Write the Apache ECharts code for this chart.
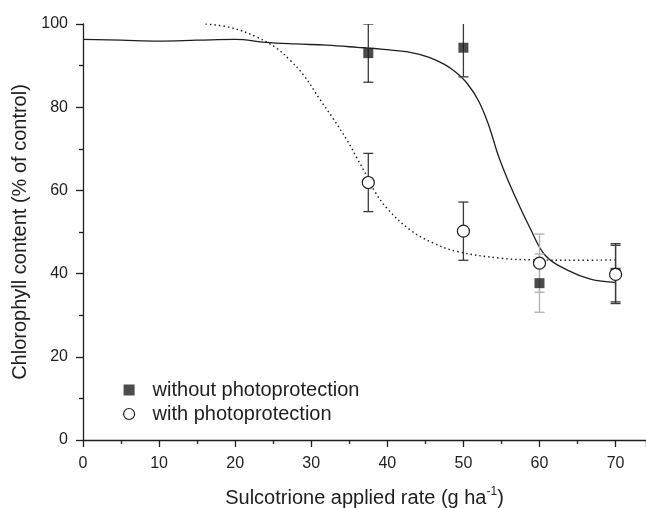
<!DOCTYPE html>
<html><head><meta charset="utf-8">
<script src="https://cdn.jsdelivr.net/npm/echarts@6/dist/echarts.min.js"></script>
<style>html,body{margin:0;padding:0;background:#fff}#c{width:646px;height:508px}</style>
</head><body><div id="c"></div>
<script>
// ---- data ----
const rates = [37.5, 50, 60, 70];
const withoutPP = [93.0, 94.3, 37.7, 40.2];
const withoutErr = [7, 7, 7, 7];
const withPP = [61.9, 50.2, 42.5, 39.8];
const withErr = [7, 7, 7, 7];
// fitted curves
const fitWithoutX = [0, 5, 10, 15, 20, 24, 28, 32, 36, 39.5, 43, 45.5, 47.5, 49, 50.5, 52, 53.3, 54.7, 56.6, 58.8, 60.8, 63.6, 66.7, 70];
const fitWithoutY = [96.3, 96.1, 95.9, 96.1, 96.3, 95.6, 95.2, 94.9, 94.4, 93.9, 93.2, 92.0, 90.3, 88.4, 85.7, 81.5, 75.8, 67.8, 59.3, 50.8, 44.3, 40.9, 38.7, 37.9];
const fitWithX = [16.1, 19.3, 22.8, 25.5, 27.2, 29, 31.2, 32.9, 34.7, 36, 37.5, 38.4, 40, 43, 46.1, 49.2, 54.9, 59.2, 65, 70];
const fitWithY = [100, 99.2, 96.9, 94.1, 91.3, 87.7, 81.7, 77.2, 72.1, 67.8, 62.8, 59.6, 55.6, 50.5, 47.3, 45.3, 43.7, 43.3, 43.2, 43.3];
const xTicks = [0, 10, 20, 30, 40, 50, 60, 70];
const yTicks = [0, 20, 40, 60, 80, 100];
const legendNames = ['without photoprotection', 'with photoprotection'];

// ---- styles ----
const FONT = 'Liberation Sans, Arial, sans-serif';
const INK = '#1e1e1e';
const BAR = '#3a3a3a';
const BAR_LIGHT = '#b0b0b0';
const lightBarRate = 60;

function zip(a, b) { return a.map((v, i) => [v, b[i]]); }
function errData(vals, errs) { return rates.map((x, i) => [x, vals[i] - errs[i], vals[i] + errs[i]]); }

function errRender(params, api) {
  const x = api.value(0);
  const lo = api.coord([x, api.value(1)]);
  const hi = api.coord([x, api.value(2)]);
  const w = 5;
  const col = x === lightBarRate ? BAR_LIGHT : BAR;
  const st = { stroke: col, lineWidth: 1.3 };
  return {
    type: 'group',
    children: [
      { type: 'line', shape: { x1: lo[0], y1: lo[1], x2: hi[0], y2: hi[1] }, style: st },
      { type: 'line', shape: { x1: lo[0] - w, y1: lo[1], x2: lo[0] + w, y2: lo[1] }, style: st },
      { type: 'line', shape: { x1: hi[0] - w, y1: hi[1], x2: hi[0] + w, y2: hi[1] }, style: st }
    ]
  };
}

const chart = echarts.init(document.getElementById('c'), null, { renderer: 'canvas' });
chart.setOption({
  animation: false,
  backgroundColor: '#fff',
  textStyle: { fontFamily: FONT },
  grid: { left: 83, top: 24, width: 563, height: 416, containLabel: false, outerBoundsMode: 'none' },
  legend: {
    orient: 'vertical', left: 118, top: 375, itemGap: 4,
    itemWidth: 11, itemHeight: 11,
    textStyle: { fontFamily: FONT, fontSize: 20, lineHeight: 20, color: INK, padding: [0, 0, 0, 13] },
    data: [
      { name: legendNames[0], icon: 'rect', itemStyle: { color: INK, borderWidth: 0 } },
      { name: legendNames[1], icon: 'circle', itemStyle: { color: '#fff', borderColor: INK, borderWidth: 1.2 } }
    ]
  },
  xAxis: {
    type: 'value', min: 0, max: 74, interval: 10,
    name: 'Sulcotrione applied rate (g ha{sup|-1})',
    nameLocation: 'middle', nameGap: 46,
    nameTextStyle: { fontFamily: FONT, fontSize: 20, color: INK, rich: { sup: { fontSize: 12, verticalAlign: 'top', padding: [0, 0, 12, 0], fontFamily: FONT, color: INK } } },
    axisLine: { lineStyle: { color: INK, width: 1.3 } },
    axisTick: { inside: false, length: 7, lineStyle: { color: INK, width: 1.3 } },
    minorTick: { show: true, splitNumber: 2, length: 4, lineStyle: { color: INK, width: 1.3 } },
    axisLabel: { margin: 16, fontSize: 16, color: INK, fontFamily: FONT, showMaxLabel: false,
      formatter: v => xTicks.includes(v) ? String(v) : '' },
    splitLine: { show: false }
  },
  yAxis: {
    type: 'value', min: 0, max: 100, interval: 20,
    name: 'Chlorophyll content (% of control)',
    nameLocation: 'middle', nameGap: 53,
    nameTextStyle: { fontFamily: FONT, fontSize: 20, color: INK },
    axisLine: { show: true, lineStyle: { color: INK, width: 1.3 } },
    axisTick: { show: true, inside: false, length: 7, lineStyle: { color: INK, width: 1.3 } },
    minorTick: { show: true, splitNumber: 2, length: 4, lineStyle: { color: INK, width: 1.3 } },
    axisLabel: { margin: 15, fontSize: 16, color: INK, fontFamily: FONT,
      formatter: v => yTicks.includes(v) ? String(v) : '' },
    splitLine: { show: false }
  },
  series: [
    { type: 'line', name: 'fit1', data: zip(fitWithoutX, fitWithoutY), smooth: 0.4, showSymbol: false, symbol: 'none',
      lineStyle: { color: INK, width: 1.3 }, z: 2, clip: true, silent: true },
    { type: 'line', name: 'fit2', data: zip(fitWithX, fitWithY), smooth: 0.4, showSymbol: false, symbol: 'none',
      lineStyle: { color: INK, width: 1.4, type: [1.5, 3] }, z: 2, clip: true, silent: true },
    { type: 'custom', name: 'err1', data: errData(withoutPP, withoutErr), renderItem: errRender, clip: true, z: 3,
      encode: { x: 0, y: [1, 2] } },
    { type: 'custom', name: 'err2', data: errData(withPP, withErr), renderItem: errRender, clip: true, z: 3,
      encode: { x: 0, y: [1, 2] } },
    { type: 'scatter', name: legendNames[0], data: zip(rates, withoutPP), symbol: 'rect', symbolSize: 10,
      itemStyle: { color: INK }, z: 4 },
    { type: 'scatter', name: legendNames[1], data: zip(rates, withPP), symbol: 'circle', symbolSize: 12,
      itemStyle: { color: '#fff', borderColor: INK, borderWidth: 1.2, opacity: 1 }, z: 5 }
  ]
});
</script></body></html>
